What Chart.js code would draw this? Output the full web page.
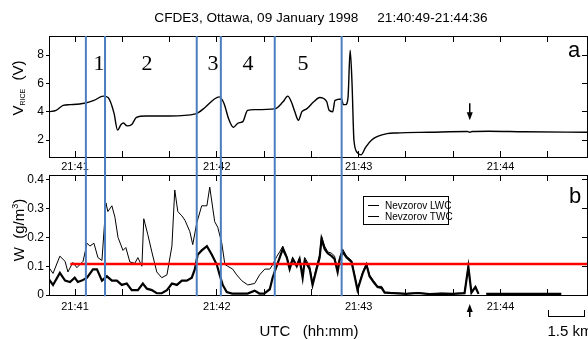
<!DOCTYPE html>
<html>
<head>
<meta charset="utf-8">
<script src="https://cdn.jsdelivr.net/npm/chart.js@4.4.0/dist/chart.umd.min.js"></script>
<style>
  body { margin: 0; background: #fff; font-family: 'Liberation Sans', Arial, sans-serif; }
  #wrap { position: relative; width: 588px; height: 340px; overflow: hidden; }
  canvas { position: absolute; left: 0; }
  .t { position: absolute; white-space: pre; color: #000; line-height: 1; transform: translate(-50%, -50%); }
  .num { font-family: 'Liberation Serif', 'Times New Roman', serif; font-size: 22px; }
  .rot { transform: translate(-50%, -50%) rotate(-90deg); font-size: 15px; }
  .rot sub { font-size: 7px; vertical-align: -2px; }
  .rot sup { font-size: 9px; vertical-align: 6px; }
  #legend { position: absolute; left: 363px; top: 196px; width: 84px; height: 27px; border: 1px solid #000; font-size: 10px; }
  #legend div { position: absolute; left: 21px; white-space: pre; }
  #legend span { position: absolute; left: 4px; width: 11px; height: 0; border-top: 1px solid #000; }
  #scalebar { position: absolute; left: 548px; top: 310px; width: 35px; height: 6px; border: 1px solid #000; border-top: none; }
</style>
</head>
<body>
<div id="wrap">
  <canvas id="topChart" width="588" height="175" style="top:0"></canvas>
  <canvas id="bottomChart" width="588" height="180" style="top:160px"></canvas>

  <div class="t" style="left:321px; top:18px; font-size:13.6px;">CFDE3, Ottawa, 09 January 1998     21:40:49-21:44:36</div>

  <div class="t num" style="left:99px; top:63px;">1</div>
  <div class="t num" style="left:147px; top:63px;">2</div>
  <div class="t num" style="left:213px; top:63px;">3</div>
  <div class="t num" style="left:248px; top:63px;">4</div>
  <div class="t num" style="left:303px; top:63px;">5</div>

  <div class="t" style="left:574px; top:50px; font-size:22px;">a</div>
  <div class="t" style="left:575px; top:196px; font-size:22px;">b</div>

  <div class="t rot" style="left:18px; top:88px;">V<sub>RICE</sub>  (V)</div>
  <div class="t rot" style="left:18px; top:230px;">W  (g/m<sup>3</sup>)</div>

  <div class="t" style="left:309px; top:330px; font-size:15px;">UTC   (hh:mm)</div>
  <div id="scalebar"></div>
  <div class="t" style="left:570px; top:330px; font-size:15px;">1.5 km</div>

  <div id="legend">
    <span style="top:8px"></span><div style="top:3px">Nevzorov LWC</div>
    <span style="top:19px"></span><div style="top:14px">Nevzorov TWC</div>
  </div>
</div>

<script>
// time axis: seconds after 21:40:00 UTC
const timeMin = 49;
const timeMax = 276.6;
const xTickValues = [60, 80, 100, 120, 140, 160, 180, 200, 220, 240, 260];
const xTickLabels = ['21:41', '', '', '21:42', '', '', '21:43', '', '', '21:44', ''];

const vriceTicks = [2, 4, 6, 8];
const wTicks = [0, 0.1, 0.2, 0.3, 0.4];
const wTickLabels = ['0', '0.1', '0.2', '0.3', '0.4'];

// segment boundaries (blue lines) and event marked by the arrows
const blueLineTimes = [64.6, 72.7, 111.5, 121.7, 144.5, 172.8];
const eventTime = 227;
const thresholdW = 0.108;
const thresholdStart = 58;

// panel a: RICE voltage
const vriceTimes = [49, 52, 55, 58, 64, 68, 72, 74, 76.5, 78, 79.5, 80.5, 82, 84, 86, 90, 100, 111, 115, 119,
  121, 123, 125, 127, 129, 131, 133, 136, 144.5, 148, 150, 151.5, 153, 154.5, 156, 158, 161, 163.5, 165, 166.5,
  167.5, 169, 170, 172.8, 173.5, 174.5, 175.5, 176.4, 177.2, 178, 179.5, 181, 183, 185.5, 188, 192, 196, 210, 226, 227,
  228, 235, 250, 276.6];
const vriceValues = [4.0, 4.1, 4.45, 4.5, 4.6, 4.8, 5.1, 5.0, 3.9, 2.7, 3.1, 3.2, 3.0, 3.1, 3.6, 3.7, 3.7, 3.85, 4.3, 4.9,
  5.05, 4.6, 3.5, 2.9, 3.2, 3.3, 4.1, 4.15, 4.2, 4.7, 5.1, 4.7, 4.0, 3.4, 4.0, 4.2, 4.7, 5.0, 4.95, 4.7,
  4.1, 4.0, 4.8, 4.9, 4.5, 4.5, 5.0, 8.35, 6.0, 2.0, 1.1, 0.95, 1.5, 2.0, 2.25, 2.45, 2.5, 2.55, 2.6, 2.55,
  2.6, 2.62, 2.58, 2.55];

// panel b: Nevzorov total water content (thin)
const twcTimes = [49, 50.7, 53.6, 55.8, 57, 59.1, 60.8, 63.4, 65.1, 66.3,
  68, 69.7, 71.4, 73.1, 73.9, 75.6, 76.9, 78.2, 80.3, 81.5,
  83.2, 85.3, 86.6, 88.3, 89.1, 90.8, 92.5, 94.6, 96.7, 98.9,
  101, 102.2, 103.5, 105.2, 106.5, 108.6, 109.8, 111.5, 113.6, 115.8,
  117, 119.1, 120.4, 122.1, 123.4, 124.6, 126.7, 128.4, 130.5, 133.1,
  136, 138.1, 140.3, 142.4, 143.6, 145.3, 146.6, 147.9, 149.6, 150.8,
  152.1, 153.8, 155, 156.3, 157.2, 159.3, 160.5, 162.2, 163.5, 164.3,
  165.6, 166.9, 168.6, 169.8, 171.1, 171.9, 173.2, 174.9, 177, 178.3,
  179.5, 181.7, 183.3, 184.6, 186.3, 188, 189.7, 191, 195.2, 200,
  205, 210, 215, 220, 224.8, 226.4, 227.7, 229.4, 230.7, 232,
  234, 265.7];
const twcValues = [0.095, 0.075, 0.135, 0.117, 0.08, 0.113, 0.095, 0.117, 0.18, 0.17,
  0.18, 0.13, 0.12, 0.32, 0.29, 0.31, 0.27, 0.2, 0.155, 0.165,
  0.115, 0.11, 0.13, 0.1, 0.265, 0.21, 0.15, 0.08, 0.06, 0.07,
  0.17, 0.365, 0.29, 0.275, 0.26, 0.22, 0.175, 0.25, 0.31, 0.31,
  0.375, 0.255, 0.235, 0.18, 0.106, 0.1, 0.09, 0.07, 0.05, 0.035,
  0.04, 0.07, 0.09, 0.09, 0.105, 0.133, 0.15, 0.17, 0.135, 0.1,
  0.13, 0.105, 0.13, 0.07, 0.13, 0.1, 0.04, 0.1, 0.14, 0.205,
  0.17, 0.15, 0.145, 0.135, 0.085, 0.13, 0.16, 0.135, 0.12, 0.07,
  0.02, 0.08, 0.11, 0.07, 0.05, 0.03, 0.03, 0.01, 0.008, 0.005,
  0.008, 0.004, 0.006, 0.005, 0.008, 0.1, 0.01, 0.03, 0.005, null,
  0.005, 0.005];

// panel b: Nevzorov liquid water content (thick)
const lwcTimes = [49, 50.7, 53.6, 55.8, 57.9, 59.9, 61.2, 62.9, 65.1, 67.6,
  69.3, 71.4, 73.5, 75.6, 77.7, 79.8, 81.9, 84, 86.6, 88.7,
  90.4, 92.5, 94.6, 96.7, 98.9, 101, 103.1, 105.2, 107.3, 109.4,
  110.7, 111.9, 113.6, 115.8, 117.9, 120, 121.2, 122.5, 124.2, 126.5,
  133, 136, 138, 140, 142.4, 143.6, 145.3, 146.6, 147.9, 149.6,
  150.8, 152.1, 153.8, 155, 156.3, 157.2, 159.3, 160.5, 162.2, 163.5,
  164.3, 165.6, 166.9, 168.6, 169.8, 171.1, 171.9, 173.2, 174.9, 177,
  178.3, 179.5, 181.7, 183.3, 184.6, 186.3, 188, 189.7, 191, 195.2,
  200, 205, 210, 215, 220, 224.8, 226.4, 227.7, 229.4, 230.7,
  232, 234, 265.7];
const lwcValues = [0.054, 0.035, 0.077, 0.05, 0.045, 0.06, 0.045, 0.05, 0.06, 0.089,
  0.089, 0.05, 0.065, 0.05, 0.05, 0.035, 0.04, 0.017, 0.017, 0.04,
  0.022, 0.017, 0.006, 0.006, 0.017, 0.04, 0.035, 0.05, 0.05, 0.06,
  0.09, 0.14, 0.155, 0.17, 0.14, 0.105, 0.07, 0.035, 0.01, 0.005,
  0.005, 0.015, 0.005, 0.005, 0.02, 0.06, 0.1, 0.13, 0.16, 0.13,
  0.09, 0.125, 0.1, 0.125, 0.06, 0.12, 0.09, 0.035, 0.09, 0.13,
  0.195, 0.16, 0.145, 0.135, 0.125, 0.08, 0.12, 0.15, 0.13, 0.115,
  0.065, 0.018, 0.075, 0.105, 0.065, 0.045, 0.028, 0.025, 0.008, 0.006,
  0.004, 0.007, 0.003, 0.005, 0.004, 0.006, 0.098, 0.008, 0.028, 0.004,
  null, 0.004, 0.004];

const blue = '#4a7ebf';
const font = 'Liberation Sans, Arial, sans-serif';

function pairs(xs, ys) {
  return xs.map((x, i) => ({ x: x, y: ys[i] }));
}

// vertical segment markers from yTop down to yBottom, separated by gaps
function blueLines(yTop, yBottom) {
  const pts = [];
  blueLineTimes.forEach(t => {
    pts.push({ x: t, y: yTop }, { x: t, y: yBottom }, { x: t, y: null });
  });
  return pts;
}

function fixedTicks(values) {
  return scale => { scale.ticks = values.map(v => ({ value: v })); };
}

// arrows pointing at the event time
const arrowPlugin = {
  id: 'eventArrow',
  afterDatasetsDraw(chart, args, opts) {
    const ctx = chart.ctx;
    const x = chart.scales.x.getPixelForValue(eventTime);
    let tail, tip;
    if (opts.below) {
      tail = chart.chartArea.bottom + opts.below[0];
      tip = chart.chartArea.bottom + opts.below[1];
    } else {
      tail = chart.scales.y.getPixelForValue(opts.from);
      tip = chart.scales.y.getPixelForValue(opts.to);
    }
    const dir = tip > tail ? 1 : -1;
    ctx.save();
    ctx.strokeStyle = '#000';
    ctx.fillStyle = '#000';
    ctx.lineWidth = 1.5;
    ctx.beginPath();
    ctx.moveTo(x, tail);
    ctx.lineTo(x, tip - dir * 5);
    ctx.stroke();
    ctx.beginPath();
    ctx.moveTo(x, tip);
    ctx.lineTo(x - 3, tip - dir * 8);
    ctx.lineTo(x + 3, tip - dir * 8);
    ctx.closePath();
    ctx.fill();
    ctx.restore();
  }
};

function xScale(position, height, showLabels, tickLen, padding) {
  return {
    type: 'linear',
    position: position,
    min: timeMin,
    max: timeMax,
    afterBuildTicks: fixedTicks(xTickValues),
    afterFit: s => { s.height = height; },
    grid: { drawOnChartArea: false, tickLength: tickLen, color: '#000', tickWidth: 1 },
    border: { color: '#000', width: 1 },
    ticks: {
      display: showLabels,
      autoSkip: false,
      maxRotation: 0,
      padding: padding,
      color: '#000',
      font: { family: font, size: 11 },
      callback: (v, i) => xTickLabels[xTickValues.indexOf(v)]
    }
  };
}

function yScale(position, min, max, tickValues, labels, width, tickLen) {
  return {
    type: 'linear',
    position: position,
    min: min,
    max: max,
    afterBuildTicks: fixedTicks(tickValues),
    afterFit: s => { s.width = width; },
    grid: { drawOnChartArea: false, tickLength: tickLen, color: '#000' },
    border: { color: '#000', width: 1 },
    ticks: {
      display: labels !== null,
      padding: 2,
      color: '#000',
      font: { family: font, size: 12 },
      callback: (v) => labels ? labels[tickValues.indexOf(v)] : ''
    }
  };
}

const common = {
  responsive: false,
  animation: false,
  events: [],
  layout: { padding: 0 },
  plugins: { legend: { display: false }, title: { display: false }, tooltip: { enabled: false } }
};

new Chart(document.getElementById('topChart'), {
  type: 'line',
  data: {
    datasets: [
      {
        data: blueLines(9.35, -0.6),
        borderColor: blue, borderWidth: 2, pointRadius: 0, spanGaps: false, clip: false, order: 0
      },
      {
        data: pairs(vriceTimes, vriceValues),
        borderColor: '#000', borderWidth: 1.4, pointRadius: 0, cubicInterpolationMode: 'monotone', order: 1
      }
    ]
  },
  options: Object.assign({}, common, {
    plugins: Object.assign({}, common.plugins, { eventArrow: { from: 4.6, to: 3.4 } }),
    scales: {
      x: xScale('bottom', 18, true, -6, 9),
      xTop: xScale('top', 36, false, -6, 0),
      y: yScale('left', 0.8, 9.35, vriceTicks, vriceTicks.map(String), 49, 3),
      yRight: yScale('right', 0.8, 9.35, vriceTicks, null, 1, -5)
    }
  }),
  plugins: [arrowPlugin]
});

new Chart(document.getElementById('bottomChart'), {
  type: 'line',
  data: {
    datasets: [
      {
        data: blueLines(0.417, -0.004),
        borderColor: blue, borderWidth: 2, pointRadius: 0, spanGaps: false, clip: false, order: 0
      },
      {
        data: [{ x: thresholdStart, y: thresholdW }, { x: timeMax, y: thresholdW }],
        borderColor: '#ff0000', borderWidth: 2.5, pointRadius: 0, order: 1
      },
      {
        label: 'Nevzorov LWC',
        data: pairs(lwcTimes, lwcValues),
        borderColor: '#000', borderWidth: 2.2, pointRadius: 0, spanGaps: false, order: 2
      },
      {
        label: 'Nevzorov TWC',
        data: pairs(twcTimes, twcValues),
        borderColor: '#000', borderWidth: 1, pointRadius: 0, spanGaps: false, order: 3
      }
    ]
  },
  options: Object.assign({}, common, {
    plugins: Object.assign({}, common.plugins, { eventArrow: { below: [22, 9] } }),
    scales: {
      x: xScale('bottom', 45, true, -6, 11),
      xTop: xScale('top', 15, false, -6, 0),
      y: yScale('left', 0, 0.417, wTicks, wTickLabels, 49, 3),
      yRight: yScale('right', 0, 0.417, wTicks, null, 1, -5)
    }
  }),
  plugins: [arrowPlugin]
});
</script>
</body>
</html>
